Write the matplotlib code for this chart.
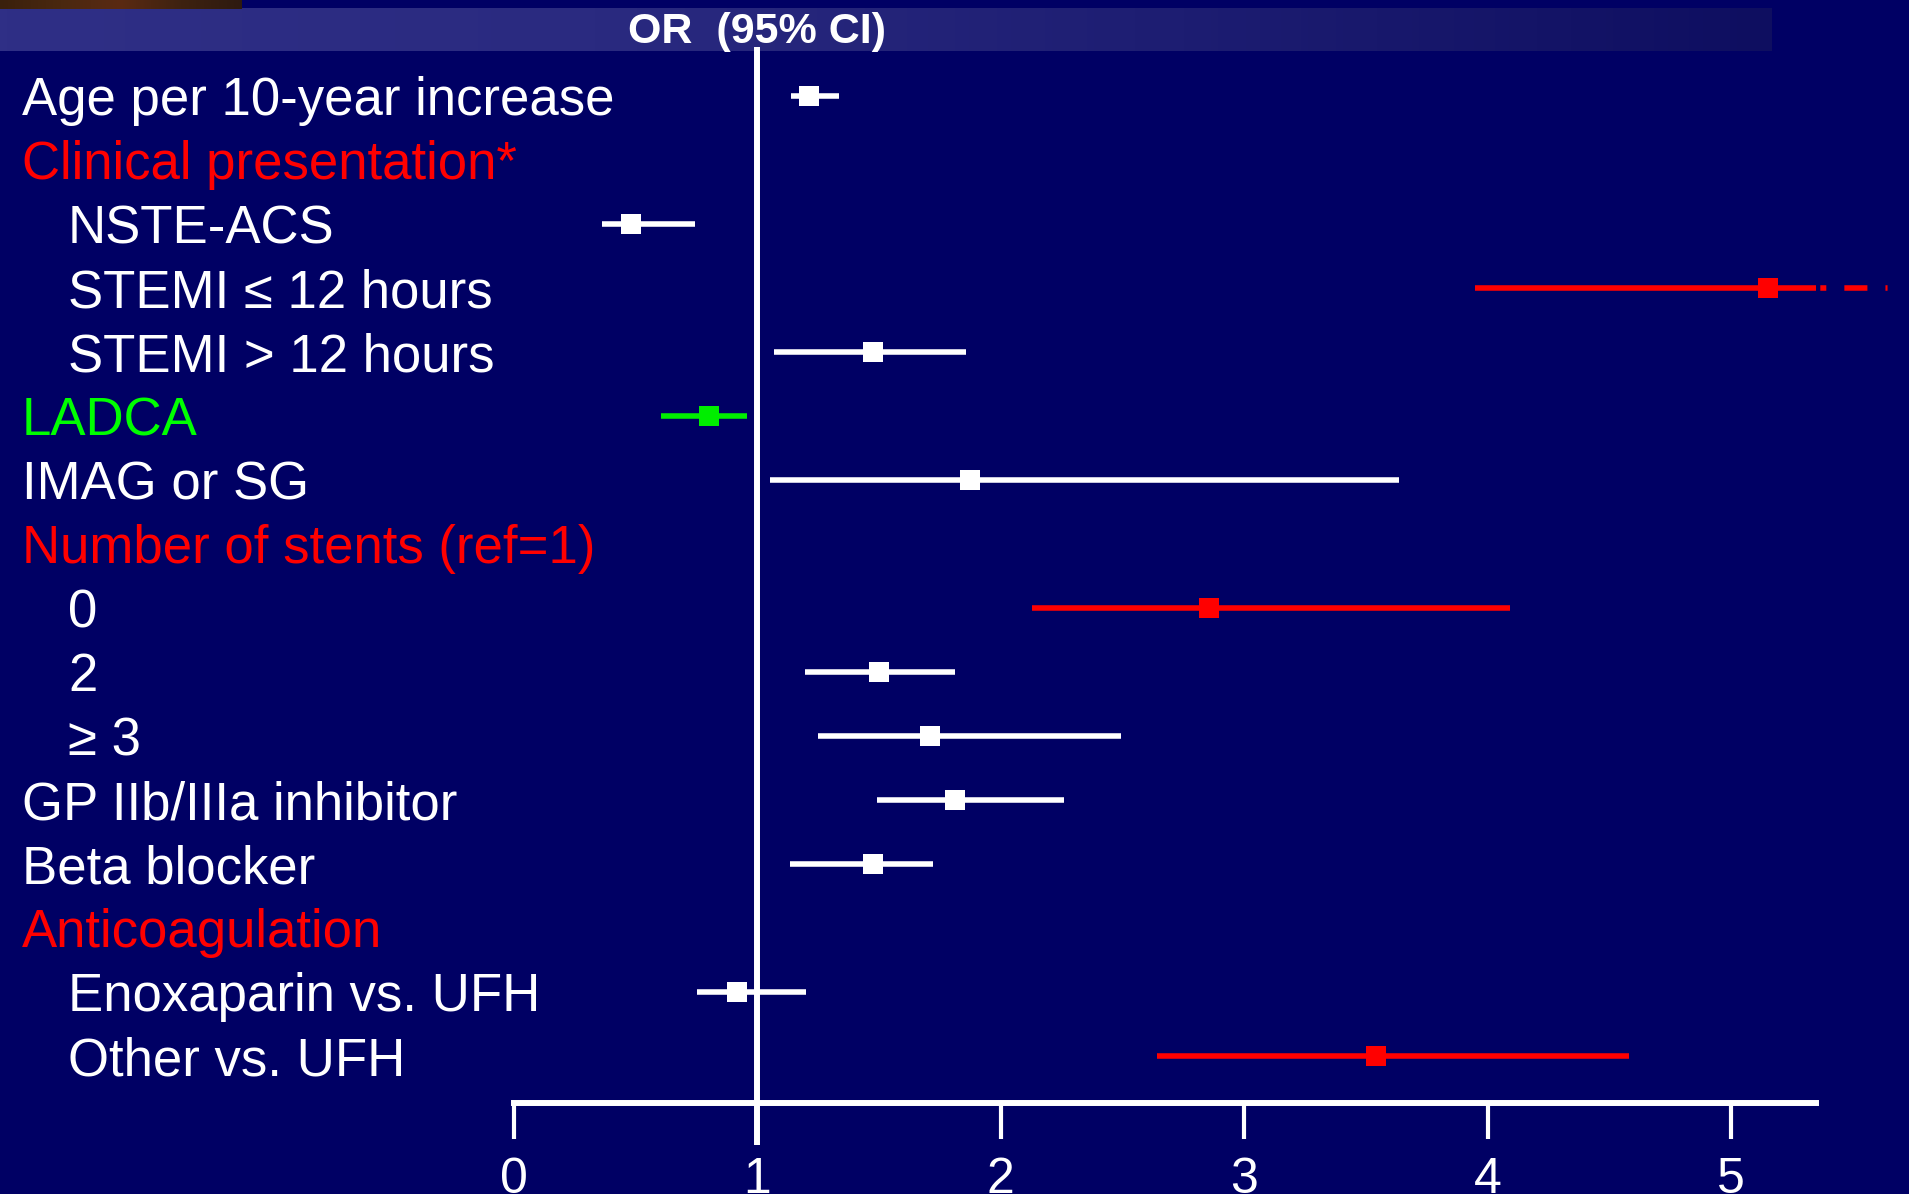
import numpy as np
import matplotlib
matplotlib.use('Agg')
import matplotlib.pyplot as plt
from matplotlib.colors import LinearSegmentedColormap
from matplotlib.transforms import blended_transform_factory, offset_copy

plt.rcParams['lines.scale_dashes'] = False

nan = np.nan
labels = ["Age per 10-year increase", "Clinical presentation*", "NSTE-ACS",
          "STEMI \u2264 12 hours", "STEMI > 12 hours", "LADCA", "IMAG or SG",
          "Number of stents (ref=1)", "0", "2", "\u2265 3", "GP IIb/IIIa inhibitor",
          "Beta blocker", "Anticoagulation", "Enoxaparin vs. UFH", "Other vs. UFH"]
label_indent = [0, 0, 1, 1, 1, 0, 0, 0, 1, 1, 1, 0, 0, 0, 1, 1]
label_colors = ['white', '#ff0000', 'white', 'white', 'white', '#00ff00', 'white', '#ff0000',
                'white', 'white', 'white', 'white', 'white', '#ff0000', 'white', 'white']
or_est = [1.21, nan, 0.48, 5.15, 1.475, 0.80, 1.875, nan, 2.855, 1.50, 1.71, 1.81, 1.475, nan, 0.915, 3.54]
ci_lo = [1.14, nan, 0.36, 3.95, 1.07, 0.605, 1.05, nan, 2.13, 1.195, 1.25, 1.49, 1.135, nan, 0.75, 2.64]
ci_hi = [1.335, nan, 0.745, 5.645, 1.855, 0.958, 3.636, nan, 4.09, 1.81, 2.495, 2.26, 1.72, nan, 1.20, 4.58]
ci_solid_to = [nan, nan, nan, 5.35, nan, nan, nan, nan, nan, nan, nan, nan, nan, nan, nan, nan]
mark_colors = ['white', 'white', 'white', '#ff0000', 'white', '#00ee00', 'white', 'white',
               '#ff0000', 'white', 'white', 'white', 'white', 'white', 'white', '#ff0000']
xticks = [0, 1, 2, 3, 4, 5]
xticklabels = ["0", "1", "2", "3", "4", "5"]
header = "OR  (95% CI)"

W, H = 1909, 1194
BG = '#000064'
FONT = 'Liberation Sans'

fig = plt.figure(figsize=(W / 100, H / 100), dpi=100, facecolor=BG)

# background layer in pixel coordinates
bg = fig.add_axes([0, 0, 1, 1], zorder=0)
bg.set_xlim(0, W)
bg.set_ylim(H, 0)
bg.axis('off')
bg.add_patch(plt.Rectangle((0, 0), W, H, color=BG, zorder=0))
cmap = LinearSegmentedColormap.from_list('hdr', ['#2f2f86', '#2a2a80', '#1d1d72', '#0e0e60'])
grad = np.linspace(0, 1, 256)[None, :]
bg.imshow(grad, cmap=cmap, extent=(0, 1772, 51, 8), aspect='auto', zorder=1)
cmap2 = LinearSegmentedColormap.from_list('br', ['#3a200c', '#4a2810', '#5a2a12', '#3e2210', '#2e1a10'])
bg.imshow(grad, cmap=cmap2, extent=(0, 242, 9, 0), aspect='auto', zorder=1)
bg.text(757, 43, header, color='white', fontsize=31, fontweight='bold', family=FONT,
        ha='center', va='baseline', zorder=2)

# data layer
ax = fig.add_axes([0, 0, 1, 1], zorder=1)
ax.patch.set_alpha(0)
px_per_unit = 243.4
x0 = 514
row0, row_h = 96, 64
ax.set_xlim(-x0 / px_per_unit, (W - x0) / px_per_unit)
ax.set_ylim((H - row0) / row_h, -row0 / row_h)

rows = np.arange(len(labels))
trans_lab = offset_copy(blended_transform_factory(fig.transFigure, ax.transData),
                        fig=fig, y=-19, units='dots')
for i, (lab, ind, c) in enumerate(zip(labels, label_indent, label_colors)):
    xpos = (68 if ind else 22) / W
    ax.text(xpos, i, lab, color=c, fontsize=38, family=FONT, ha='left', va='baseline',
            transform=trans_lab)

for i in rows:
    if np.isnan(or_est[i]):
        continue
    c = mark_colors[i]
    if not np.isnan(ci_solid_to[i]):
        ax.plot([ci_lo[i], ci_solid_to[i]], [i, i], color=c, lw=4, solid_capstyle='butt', zorder=3)
        ax.plot([ci_solid_to[i], ci_hi[i]], [i, i], color=c, lw=4,
                dashes=(0.01, 3.1, 4.3, 13, 16.6, 13, 1.5, 20),
                dash_capstyle='butt', zorder=3)
    else:
        ax.plot([ci_lo[i], ci_hi[i]], [i, i], color=c, lw=4, solid_capstyle='butt', zorder=3)
    ax.plot([or_est[i]], [i], marker='s', ms=15, color=c, mec=c, mew=0, zorder=4)

# reference line at OR = 1
ax.plot([1, 1], [(47 - row0) / row_h, (1145 - row0) / row_h], color='white', lw=4.3,
        solid_capstyle='butt', zorder=2)

# x axis
axis_y = (1103 - row0) / row_h
for s in ['top', 'right', 'left']:
    ax.spines[s].set_visible(False)
ax.spines['bottom'].set_position(('data', axis_y))
ax.spines['bottom'].set_bounds(0, 5.35)
ax.spines['bottom'].set_color('white')
ax.spines['bottom'].set_linewidth(4.3)
ax.set_xticks(xticks)
ax.set_xticklabels(xticklabels, family=FONT)
ax.set_yticks([])
ax.tick_params(axis='x', direction='out', length=26, width=3, colors='white',
               labelsize=36, pad=13)

fig.savefig('out.png', dpi=100, facecolor=BG)
